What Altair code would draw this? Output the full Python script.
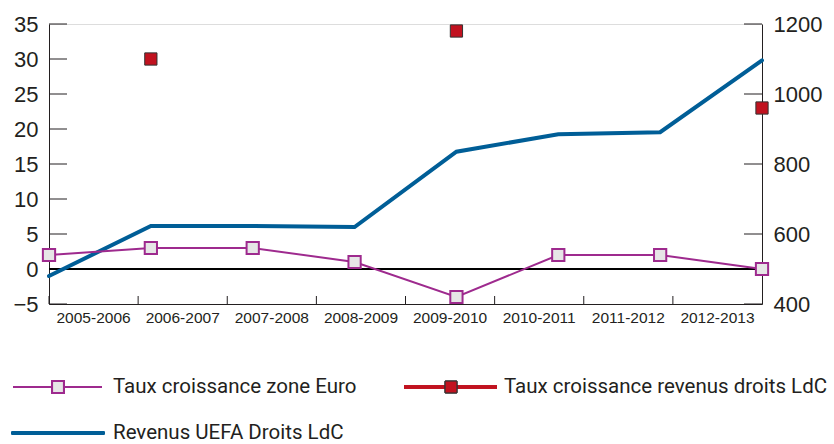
import altair as alt
import pandas as pd

categories = ["2005-2006", "2006-2007", "2007-2008", "2008-2009",
              "2009-2010", "2010-2011", "2011-2012", "2012-2013"]
euro_growth = [2, 3, 3, 1, -4, 2, 2, 0]
ldc_growth = [None, 30, None, None, 34, None, None, 23]
uefa_revenue = [480, 623, 623, 620, 835, 885, 891, 1096]
left_ticks = [-5, 0, 5, 10, 15, 20, 25, 30, 35]
right_ticks = [400, 600, 800, 1000, 1200]
series_names = ["Taux croissance zone Euro",
                "Taux croissance revenus droits LdC",
                "Revenus UEFA Droits LdC"]

PURPLE = "#9e2a8e"
RED = "#c1121f"
BLUE = "#005e97"
INK = "#231f20"
NUM_FONT = "Liberation Sans, Arial, sans-serif"
TXT_FONT = "Roboto, Liberation Sans, sans-serif"

W, H = 713, 280

df = pd.DataFrame({"cat": categories, "euro": euro_growth,
                   "ldc": ldc_growth, "rev": uefa_revenue})
df_ldc = df.dropna(subset=["ldc"])
df_cat = pd.DataFrame({"cat": categories})
df_lt = pd.DataFrame({"v": left_ticks})
df_rt = pd.DataFrame({"v": right_ticks})

left_scale = alt.Scale(domain=[-5, 35], nice=False, zero=False)
right_scale = alt.Scale(domain=[400, 1200], nice=False, zero=False)
pt_scale = alt.Scale(type="point", domain=categories, padding=0)
band_scale = alt.Scale(type="band", domain=categories, paddingInner=0, paddingOuter=0)

x_pt = alt.X("cat:N", scale=pt_scale, axis=None, sort=categories)

# x axis (band) with labels and upward ticks
x_axis_layer = alt.Chart(df_cat).mark_rule(color=INK, strokeWidth=1).encode(
    x=alt.X("cat:N", scale=band_scale, sort=categories, bandPosition=0,
            axis=alt.Axis(title=None, ticks=False, tickSize=0, labelAngle=0,
                          labelFont=NUM_FONT, labelFontSize=15.5, labelColor=INK,
                          labelPadding=6, domainColor=INK, domainWidth=1,
                          labelBaseline="top", grid=False)),
    y=alt.value(H - 8), y2=alt.value(H),
)

left_tick_layer = alt.Chart(df_lt).mark_rule(color=INK, strokeWidth=1).encode(
    y=alt.Y("v:Q", scale=left_scale,
            axis=alt.Axis(orient="left", title=None, values=left_ticks, ticks=False,
                          tickSize=0, labelFont=NUM_FONT, labelFontSize=22,
                          labelColor=INK, labelPadding=11, domainColor=INK,
                          domainWidth=1, grid=False, format="d")),
    x=alt.value(0), x2=alt.value(18),
)

right_tick_layer = alt.Chart(df_rt).mark_rule(color=INK, strokeWidth=1).encode(
    y=alt.Y("v:Q", scale=right_scale,
            axis=alt.Axis(orient="right", title=None, values=right_ticks, ticks=False,
                          tickSize=0, labelFont=NUM_FONT, labelFontSize=22,
                          labelColor=INK, labelPadding=11, domainColor=INK,
                          domainWidth=1, grid=False, format="d")),
    x=alt.value(W - 18), x2=alt.value(W),
)

zero_line = alt.Chart(df_cat).mark_rule(color="black", strokeWidth=1).encode(
    y=alt.Y(datum=0, scale=left_scale, axis=None),
)

rev_line = alt.Chart(df).mark_line(color=BLUE, strokeWidth=4, strokeCap="round").encode(
    x=x_pt,
    y=alt.Y("rev:Q", scale=right_scale, axis=None),
)

euro_line = alt.Chart(df).mark_line(color=PURPLE, strokeWidth=2).encode(
    x=x_pt,
    y=alt.Y("euro:Q", scale=left_scale, axis=None),
)
euro_pts = alt.Chart(df).mark_square(
    size=150, fill="#e6e6e6", stroke=PURPLE, strokeWidth=2, opacity=1
).encode(
    x=x_pt,
    y=alt.Y("euro:Q", scale=left_scale, axis=None),
)

ldc_pts = alt.Chart(df_ldc).mark_square(
    size=150, fill=RED, stroke="#333333", strokeWidth=1, opacity=1
).encode(
    x=x_pt,
    y=alt.Y("ldc:Q", scale=left_scale, axis=None),
)

# legend
df_leg = pd.DataFrame({"name": series_names})
r1, r2 = 363, 409
LEG_FS = 20.5
leg = [
    alt.Chart(df_leg).mark_rule(color=PURPLE, strokeWidth=2).encode(
        x=alt.value(-36), x2=alt.value(53), y=alt.value(r1)),
    alt.Chart(df_leg).mark_square(size=140, fill="#e6e6e6", stroke=PURPLE,
                                  strokeWidth=2, opacity=1).encode(
        x=alt.value(9), y=alt.value(r1)),
    alt.Chart(df_leg).transform_filter(alt.datum.name == series_names[0]).mark_text(
        align="left", baseline="middle", font=TXT_FONT, fontSize=LEG_FS, color=INK).encode(
        text="name:N", x=alt.value(64), y=alt.value(r1)),
    alt.Chart(df_leg).mark_rule(color=RED, strokeWidth=3.5).encode(
        x=alt.value(355), x2=alt.value(448), y=alt.value(r1)),
    alt.Chart(df_leg).mark_square(size=140, fill=RED, stroke="#333333",
                                  strokeWidth=1, opacity=1).encode(
        x=alt.value(402), y=alt.value(r1)),
    alt.Chart(df_leg).transform_filter(alt.datum.name == series_names[1]).mark_text(
        align="left", baseline="middle", font=TXT_FONT, fontSize=LEG_FS, color=INK).encode(
        text="name:N", x=alt.value(455), y=alt.value(r1)),
    alt.Chart(df_leg).mark_rule(color=BLUE, strokeWidth=4, strokeCap="round").encode(
        x=alt.value(-36), x2=alt.value(54), y=alt.value(r2)),
    alt.Chart(df_leg).transform_filter(alt.datum.name == series_names[2]).mark_text(
        align="left", baseline="middle", font=TXT_FONT, fontSize=LEG_FS, color=INK).encode(
        text="name:N", x=alt.value(64), y=alt.value(r2)),
]

chart = alt.layer(
    x_axis_layer, left_tick_layer, right_tick_layer, zero_line,
    rev_line, euro_line, euro_pts, ldc_pts, *leg
).resolve_scale(x="independent", y="independent").properties(
    width=W, height=H,
    autosize=alt.AutoSizeParams(type="none"),
    padding={"left": 49, "top": 24, "right": 72, "bottom": 140},
).configure_view(stroke=None).configure(background="white")

chart.save("out.html", embed_options={"renderer": "svg", "actions": False})
